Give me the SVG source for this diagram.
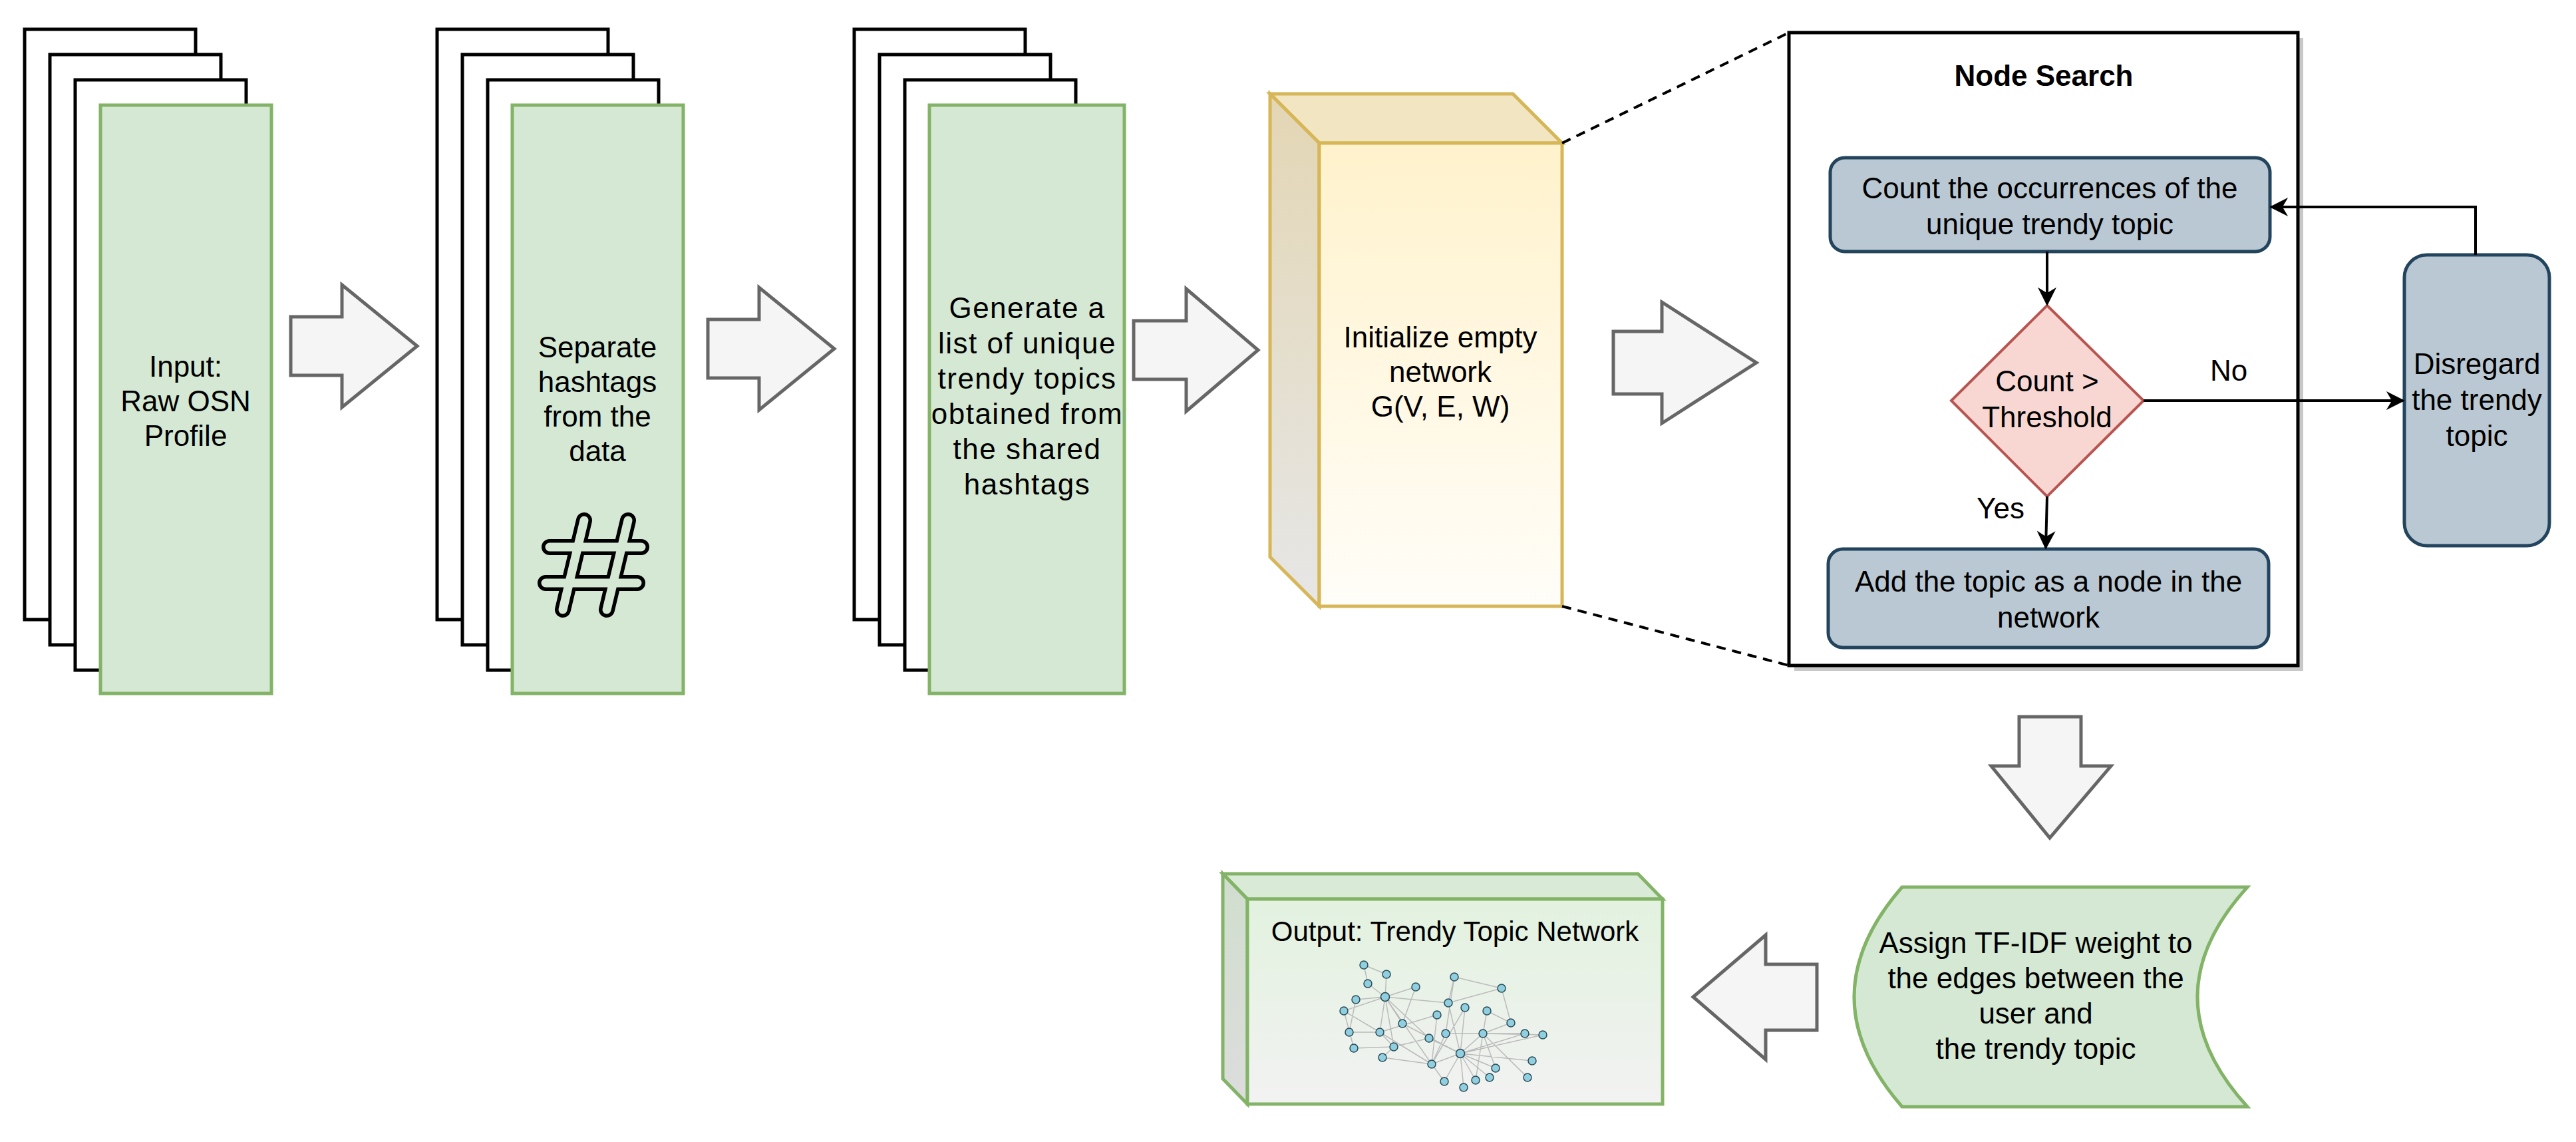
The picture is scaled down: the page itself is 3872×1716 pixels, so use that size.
<svg xmlns="http://www.w3.org/2000/svg" width="3872" height="1716" viewBox="0 0 3872 1716">
<defs>
<style>
.pg{fill:#fff;stroke:#000;stroke-width:5}
.gr{fill:#d5e8d4;stroke:#82b366;stroke-width:5}
.ar{fill:#f5f5f5;stroke:#666;stroke-width:5}
.bl{fill:#bac8d3;stroke:#23445d;stroke-width:5}
.t{font-family:"Liberation Sans",Arial,sans-serif;font-size:44px;fill:#000;text-anchor:middle}
.w{letter-spacing:1.5px}
.cn{stroke:#000;stroke-width:4;fill:none}
.ne{stroke:#bbb;stroke-width:1.5}
.nn{fill:#8fcfe0;stroke:#2a4a55;stroke-width:1.5}
</style>
<marker id="ah" viewBox="0 0 20 20" refX="18" refY="10" markerWidth="28" markerHeight="28" orient="auto" markerUnits="userSpaceOnUse">
<path d="M0,0 L20,10 L0,20 L6,10 Z" fill="#000"/>
</marker>
<linearGradient id="cf" x1="0" y1="0" x2="0" y2="1"><stop offset="0" stop-color="#fff2cc"/><stop offset="1" stop-color="#fffdf8"/></linearGradient>
<linearGradient id="cs" x1="0" y1="0" x2="0" y2="1"><stop offset="0" stop-color="#e3d6b4"/><stop offset="1" stop-color="#e6e6e6"/></linearGradient>
<linearGradient id="of" x1="0" y1="0" x2="0" y2="1"><stop offset="0" stop-color="#e2f2df"/><stop offset="1" stop-color="#f2f2f2"/></linearGradient>
<linearGradient id="os" x1="0" y1="0" x2="0" y2="1"><stop offset="0" stop-color="#d0dece"/><stop offset="1" stop-color="#dcdcdc"/></linearGradient>
</defs>

<g id="input">
<rect class="pg" x="37" y="44" width="257" height="887"/>
<rect class="pg" x="75" y="82" width="257" height="887"/>
<rect class="pg" x="113" y="120" width="257" height="887"/>
<rect class="gr" x="151" y="158" width="257" height="884"/>
<text class="t" x="279" y="566">Input:</text>
<text class="t" x="279" y="618">Raw OSN</text>
<text class="t" x="279" y="670">Profile</text>
</g>

<g id="separate">
<rect class="pg" x="657" y="44" width="257" height="887"/>
<rect class="pg" x="695" y="82" width="257" height="887"/>
<rect class="pg" x="733" y="120" width="257" height="887"/>
<rect class="gr" x="770" y="158" width="257" height="884"/>
<text class="t" x="898" y="537">Separate</text>
<text class="t" x="898" y="589">hashtags</text>
<text class="t" x="898" y="641">from the</text>
<text class="t" x="898" y="693">data</text>
<g stroke-linecap="round" fill="none">
<path d="M878,782 L846,916 M944,782 L912,916 M826,822 L964,822 M820,876 L958,876" stroke="#000" stroke-width="24"/>
<path d="M878,782 L846,916 M944,782 L912,916 M826,822 L964,822 M820,876 L958,876" stroke="#d5e8d4" stroke-width="13"/>
</g>
</g>

<g id="generate">
<rect class="pg" x="1284" y="44" width="257" height="887"/>
<rect class="pg" x="1322" y="82" width="257" height="887"/>
<rect class="pg" x="1360" y="120" width="257" height="887"/>
<rect class="gr" x="1397" y="158" width="293" height="884"/>
<text class="t w" x="1544" y="478">Generate a</text>
<text class="t w" x="1544" y="531">list of unique</text>
<text class="t w" x="1544" y="584">trendy topics</text>
<text class="t w" x="1544" y="637">obtained from</text>
<text class="t w" x="1544" y="690">the shared</text>
<text class="t w" x="1544" y="743">hashtags</text>
</g>

<g id="arrows-big">
<path class="ar" d="M437,476 L514,476 L514,428 L627,520 L514,612 L514,564 L437,564 Z"/>
<path class="ar" d="M1064,480 L1141,480 L1141,432 L1254,524 L1141,616 L1141,568 L1064,568 Z"/>
<path class="ar" d="M1704,482 L1783,482 L1783,434 L1891,526 L1783,618 L1783,570 L1704,570 Z"/>
<path class="ar" d="M2425,498 L2498,498 L2498,454 L2640,545 L2498,636 L2498,592 L2425,592 Z"/>
<path class="ar" d="M3035,1077 L3128,1077 L3128,1151 L3173,1151 L3081,1259 L2993,1151 L3035,1151 Z"/>
<path class="ar" d="M2731,1449 L2654,1449 L2654,1405 L2545,1498 L2654,1592 L2654,1548 L2731,1548 Z"/>
</g>

<g id="init">
<path d="M1909,141 L2274,141 L2348,215 L1983,215 Z" fill="#f1e5c2" stroke="#d6b656" stroke-width="5"/>
<path d="M1909,141 L1983,215 L1983,911 L1909,837 Z" fill="url(#cs)" stroke="#d6b656" stroke-width="5"/>
<rect x="1983" y="215" width="365" height="696" fill="url(#cf)" stroke="#d6b656" stroke-width="5"/>
<text class="t" x="2165" y="522">Initialize empty</text>
<text class="t" x="2165" y="574">network</text>
<text class="t" x="2165" y="626">G(V, E, W)</text>
</g>

<g id="zoom-lines">
<path d="M2348,215 L2689,49 M2348,911 L2689,1000" stroke="#000" stroke-width="4" stroke-dasharray="14,10" fill="none"/>
</g>

<g id="node-search">
<rect x="2697" y="57" width="765" height="951" fill="#c8c8c8"/>
<rect x="2689" y="49" width="765" height="951" fill="#fff" stroke="#000" stroke-width="5"/>
<text class="t" x="3072" y="129" font-weight="bold">Node Search</text>
</g>

<g id="count">
<rect class="bl" x="2751" y="237" width="661" height="141" rx="22"/>
<text class="t" x="3081" y="298">Count the occurrences of the</text>
<text class="t" x="3081" y="352">unique trendy topic</text>
</g>

<g id="decision">
<path d="M3077,459 L3222,602 L3077,746 L2933,602 Z" fill="#f8d7d3" stroke="#b85450" stroke-width="4"/>
<text class="t" x="3077" y="588">Count &gt;</text>
<text class="t" x="3077" y="642">Threshold</text>
</g>

<g id="add">
<rect class="bl" x="2748" y="825" width="662" height="148" rx="22"/>
<text class="t" x="3079" y="889">Add the topic as a node in the</text>
<text class="t" x="3079" y="943">network</text>
</g>

<g id="disregard">
<rect class="bl" x="3614" y="383" width="218" height="437" rx="34"/>
<text class="t" x="3723" y="562">Disregard</text>
<text class="t" x="3723" y="616">the trendy</text>
<text class="t" x="3723" y="670">topic</text>
</g>

<g id="assign">
<path d="M2859,1333 L3378,1333 Q3228,1498 3378,1663 L2859,1663 Q2715,1498 2859,1333 Z" class="gr"/>
<text class="t" x="3060" y="1432">Assign TF-IDF weight to</text>
<text class="t" x="3060" y="1485">the edges between the</text>
<text class="t" x="3060" y="1538">user and</text>
<text class="t" x="3060" y="1591">the trendy topic</text>
</g>

<g id="output">
<path d="M1838,1313 L2462,1313 L2499,1351 L1875,1351 Z" fill="#d9ead6" stroke="#82b366" stroke-width="5"/>
<path d="M1838,1313 L1875,1351 L1875,1659 L1838,1621 Z" fill="url(#os)" stroke="#82b366" stroke-width="5"/>
<rect x="1875" y="1351" width="624" height="308" fill="url(#of)" stroke="#82b366" stroke-width="5"/>
<text class="t" x="2187" y="1414" style="font-size:42px">Output: Trendy Topic Network</text>
<g id="network-image">
<path class="ne" d="M2050,1450L2056,1478M2050,1450L2084,1464M2084,1464L2082,1498M2056,1478L2082,1498M2128,1483L2082,1498M2128,1483L2108,1538M2082,1498L2038,1502M2082,1498L2020,1519M2082,1498L2177,1507M2082,1498L2108,1538M2082,1498L2074,1551M2082,1498L2148,1560M2082,1498L2152,1599M2082,1498L2095,1573M2020,1519L2074,1551M2186,1468L2257,1485M2186,1468L2177,1507M2186,1468L2173,1553M2257,1485L2177,1507M2257,1485L2271,1537M2177,1507L2195,1583M2202,1514L2195,1583M2235,1519L2271,1537M2235,1519L2229,1553M2160,1525L2074,1551M2160,1525L2152,1599M2271,1537L2229,1553M2074,1551L2095,1573M2074,1551L2152,1599M2173,1553L2229,1553M2229,1553L2292,1553M2229,1553L2319,1555M2229,1553L2195,1583M2229,1553L2296,1619M2229,1553L2248,1605M2229,1553L2218,1623M2148,1560L2095,1573M2148,1560L2195,1583M2035,1575L2095,1573M2095,1573L2078,1589M2195,1583L2303,1594M2195,1583L2248,1605M2195,1583L2171,1625M2195,1583L2218,1623M2195,1583L2239,1619M2195,1583L2200,1634M2195,1583L2152,1599M2195,1583L2319,1555M2195,1583L2292,1553M2078,1589L2152,1599M2152,1599L2171,1625M2152,1599L2173,1553M2028,1551L2074,1551M2108,1538L2195,1583M2202,1514L2152,1599M2038,1502L2028,1551M2020,1519L2035,1575"/>
<g class="nn">
<circle cx="2050" cy="1450" r="6"/><circle cx="2084" cy="1464" r="6"/><circle cx="2056" cy="1478" r="6"/><circle cx="2128" cy="1483" r="6"/><circle cx="2082" cy="1498" r="6.5"/><circle cx="2038" cy="1502" r="6"/><circle cx="2020" cy="1519" r="6"/><circle cx="2186" cy="1468" r="6"/><circle cx="2257" cy="1485" r="6"/><circle cx="2177" cy="1507" r="6"/><circle cx="2202" cy="1514" r="6"/><circle cx="2235" cy="1519" r="6"/><circle cx="2160" cy="1525" r="6"/><circle cx="2108" cy="1538" r="6"/><circle cx="2271" cy="1537" r="6"/><circle cx="2028" cy="1551" r="6"/><circle cx="2074" cy="1551" r="6"/><circle cx="2173" cy="1553" r="6"/><circle cx="2229" cy="1553" r="6"/><circle cx="2292" cy="1553" r="6"/><circle cx="2319" cy="1555" r="6"/><circle cx="2148" cy="1560" r="6"/><circle cx="2035" cy="1575" r="6"/><circle cx="2095" cy="1573" r="6"/><circle cx="2195" cy="1583" r="6.5"/><circle cx="2078" cy="1589" r="6"/><circle cx="2303" cy="1594" r="6"/><circle cx="2152" cy="1599" r="6"/><circle cx="2248" cy="1605" r="6"/><circle cx="2171" cy="1625" r="6"/><circle cx="2218" cy="1623" r="6"/><circle cx="2239" cy="1619" r="6"/><circle cx="2296" cy="1619" r="6"/><circle cx="2200" cy="1634" r="6"/>
</g>
</g>
</g>

<g id="connectors">
<path class="cn" d="M3077,378 L3077,457" marker-end="url(#ah)"/>
<path class="cn" d="M3077,746 L3075,823" marker-end="url(#ah)"/>
<path class="cn" d="M3222,602 L3612,602" marker-end="url(#ah)"/>
<path class="cn" d="M3721,383 L3721,311 L3414,311" marker-end="url(#ah)"/>
<text class="t" x="3007" y="779">Yes</text>
<text class="t" x="3350" y="572">No</text>
</g>
</svg>
